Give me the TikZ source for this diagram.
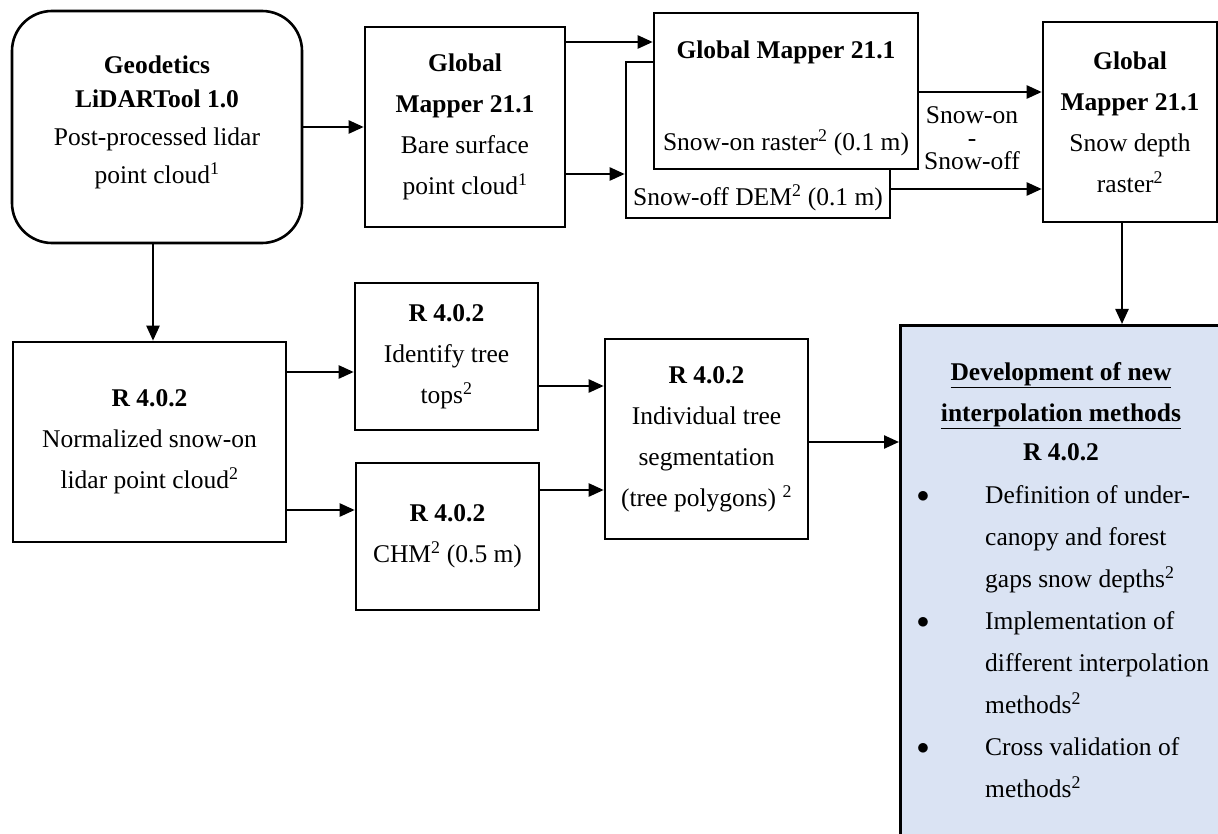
\documentclass[tikz,border=0pt]{standalone}
\usepackage{fontspec}
\setmainfont{Liberation Serif}
\usetikzlibrary{arrows.meta}
\definecolor{devblue}{RGB}{218,227,243}
\begin{document}
\begin{tikzpicture}[x=1pt,y=-1pt,
  every node/.style={font=\fontsize{25.5}{41}\selectfont},
  box/.style={draw,line width=2.6pt,fill=white,align=center,inner sep=0pt},
  txt/.style={align=center,inner sep=0pt},
  arr/.style={line width=2.4pt,-{Triangle[length=15pt,width=13pt]}}]
\useasboundingbox (0,0) rectangle (1218,834);
\begin{scope}
\clip (0,0) rectangle (1218,834);
% development box (extends past the page)
\node[draw,line width=3pt,fill=devblue,minimum width=340pt,minimum height=540pt,anchor=north west,inner sep=0pt] (dev) at (899,324) {};
\end{scope}
% boxes
\node[box,rounded corners=40pt,minimum width=290pt,minimum height=232pt] (geo) at (157,127) {};
\node[txt,font=\fontsize{25.5}{38}\selectfont] (geotxt) at (157,122)
  {\textbf{Geodetics}\\[-4pt] \textbf{LiDARTool 1.0}\\ Post-processed lidar\\ point cloud\textsuperscript{1}};
\node[box,minimum width=200pt,minimum height=200pt] (bare) at (465,127)
  {\textbf{Global}\\ \textbf{Mapper 21.1}\\ Bare surface\\ point cloud\textsuperscript{1}};
\node[box,minimum width=264pt,minimum height=156pt] (off) at (758,140) {};
\node[txt] (offtxt) at (758,198) {Snow-off DEM\textsuperscript{2} (0.1 m)};
\node[box,minimum width=264pt,minimum height=156pt] (on) at (786,91) {};
\node[txt] (ontitle) at (786,52) {\textbf{Global Mapper 21.1}};
\node[txt] (ontxt) at (786,143) {Snow-on raster\textsuperscript{2} (0.1 m)};
\node[box,minimum width=174pt,minimum height=200pt] (depth) at (1130,122)
  {\textbf{Global}\\ \textbf{Mapper 21.1}\\ Snow depth\\ raster\textsuperscript{2}};
\node[txt,font=\fontsize{25.5}{23}\selectfont] (diff) at (972,138) {Snow-on\\ -\\ Snow-off};
\node[box,minimum width=273pt,minimum height=200pt] (norm) at (149.5,442)
  {\textbf{R 4.0.2}\\ Normalized snow-on\\ lidar point cloud\textsuperscript{2}};
\node[box,minimum width=183pt,minimum height=147pt] (tops) at (446.5,356.5)
  {\textbf{R 4.0.2}\\ Identify tree\\ tops\textsuperscript{2}};
\node[box,minimum width=183pt,minimum height=147pt] (chm) at (447.5,536.5)
  {\textbf{R 4.0.2}\\ CHM\textsuperscript{2} (0.5 m)};
\node[box,minimum width=203pt,minimum height=200pt] (seg) at (706.5,439)
  {\textbf{R 4.0.2}\\ Individual tree\\ segmentation\\ (tree polygons) \textsuperscript{2}};
% development box text
\node[txt] (devtitle) at (1061,412)
  {\textbf{\underline{Development of new}}\\ \textbf{\underline{interpolation methods}}\\[-2pt] \textbf{R 4.0.2}};
\node[txt,align=left,anchor=north west,font=\fontsize{25.5}{42}\selectfont] (devlist) at (985,485)
  {Definition of under-\\ canopy and forest\\ gaps snow depths\textsuperscript{2}\\ Implementation of\\ different interpolation\\ methods\textsuperscript{2}\\ Cross validation of\\ methods\textsuperscript{2}};
\node[txt,font=\fontsize{30}{30}\selectfont] (b1) at (923,497) {$\bullet$};
\node[txt,font=\fontsize{30}{30}\selectfont] (b2) at (923,623) {$\bullet$};
\node[txt,font=\fontsize{30}{30}\selectfont] (b3) at (923,749) {$\bullet$};
% connectors
\draw[arr] (geo.east |- 0,127) -- (bare.west |- 0,127);
\draw[arr] (bare.east |- 0,42) -- (on.west |- 0,42);
\draw[arr] (bare.east |- 0,174) -- (off.west |- 0,174);
\draw[arr] (on.east |- 0,92) -- (depth.west |- 0,92);
\draw[arr] (off.east |- 0,189) -- (depth.west |- 0,189);
\draw[arr] (depth.south -| 1122,0) -- (dev.north -| 1122,0);
\draw[arr] (geo.south -| 153,0) -- (norm.north -| 153,0);
\draw[arr] (norm.east |- 0,372) -- (tops.west |- 0,372);
\draw[arr] (norm.east |- 0,510) -- (chm.west |- 0,510);
\draw[arr] (tops.east |- 0,386) -- (seg.west |- 0,386);
\draw[arr] (chm.east |- 0,490) -- (seg.west |- 0,490);
\draw[arr] (seg.east |- 0,442) -- (dev.west |- 0,442);
\end{tikzpicture}
\end{document}
